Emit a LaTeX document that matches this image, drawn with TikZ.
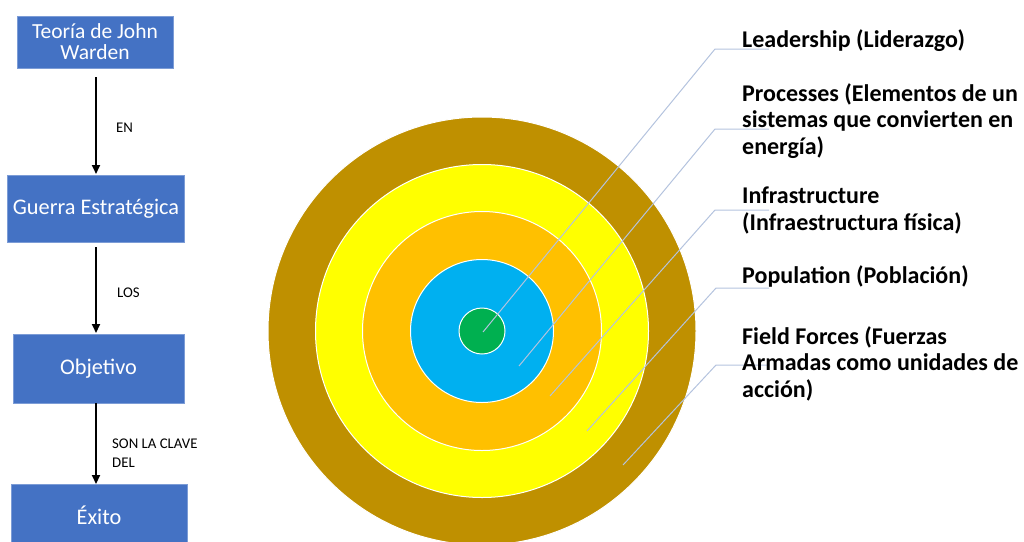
\documentclass[tikz,border=0pt]{standalone}
\usepackage{fontspec}
\setmainfont{Carlito}
\usetikzlibrary{arrows.meta}
\definecolor{boxblue}{HTML}{4472C4}
\definecolor{ringbrown}{HTML}{BF9000}
\definecolor{ringyellow}{HTML}{FFFF00}
\definecolor{ringorange}{HTML}{FFC000}
\definecolor{ringblue}{HTML}{00B0F0}
\definecolor{ringgreen}{HTML}{00B050}
\definecolor{leader}{HTML}{B4C3DE}
\tikzset{
  flowbox/.style={rectangle, fill=boxblue, draw=boxblue!70!white, line width=0.6pt, text=white, align=center, inner sep=0pt},
  flowarrow/.style={line width=2.2pt, -{Triangle[width=8pt,length=9pt]}},
  flowlabel/.style={font=\fontsize{14.8}{19}\selectfont, anchor=base west, inner sep=0pt, align=left},
  ring/.style={circle, draw=white, line width=1pt, inner sep=0pt},
  leaderline/.style={draw=leader, line width=1pt},
  ringlabel/.style={font=\bfseries\fontsize{24}{26.5}\selectfont, anchor=base west, inner sep=0pt, align=left}
}
\begin{document}
\begin{tikzpicture}[x=1pt,y=-1pt]
\useasboundingbox (0,0) rectangle (1024,541);
\clip (0,0) rectangle (1024,541);
% flow chart
\node[flowbox, minimum width=156pt, minimum height=52pt, font=\fontsize{21.5}{21}\selectfont] (b1) at (95,42) {Teoría de John\\Warden};
\node[flowbox, minimum width=177pt, minimum height=67pt, font=\fontsize{22.3}{24}\selectfont] (b2) at (96,208.5) {Guerra Estratégica};
\node[flowbox, minimum width=171pt, minimum height=69pt, font=\fontsize{22.3}{24}\selectfont] (b3) at (98.5,368.5) {Objetivo};
\node[flowbox, minimum width=176pt, minimum height=62pt, font=\fontsize{22.3}{24}\selectfont] (b4) at (99,515) {Éxito};
\coordinate (a1s) at (96,77);
\coordinate (a1e) at (96,174);
\coordinate (a2s) at (96,247);
\coordinate (a2e) at (96,333);
\coordinate (a3s) at (96,403);
\coordinate (a3e) at (96,484);
\draw[flowarrow] (a1s) -- (a1e);
\draw[flowarrow] (a2s) -- (a2e);
\draw[flowarrow] (a3s) -- (a3e);
\node[flowlabel] (l1) at (116,132) {EN};
\node[flowlabel] (l2) at (117,297) {LOS};
\node[flowlabel] (l3) at (112,467) {SON LA CLAVE\\DEL};
% target
\node[ring, fill=ringbrown, minimum size=428pt] (r5) at (482,331) {};
\node[ring, fill=ringyellow, minimum size=333pt] (r4) at (482,331) {};
\node[ring, fill=ringorange, minimum size=239pt] (r3) at (482,331) {};
\node[ring, fill=ringblue, minimum size=143pt] (r2) at (482,331) {};
\node[ring, fill=ringgreen, minimum size=46pt] (r1) at (482,331) {};
% leader lines
\coordinate (p1) at (483,332);
\coordinate (p2) at (519,366);
\coordinate (p3) at (550,396);
\coordinate (p4) at (587,431);
\coordinate (p5) at (623,465);
\coordinate (k1) at (715,49);
\coordinate (k2) at (715,129);
\coordinate (k3) at (715,210);
\coordinate (k4) at (716,288);
\coordinate (k5) at (716,365);
\coordinate (e1) at (769,49);
\coordinate (e2) at (769,129);
\coordinate (e3) at (769,210);
\coordinate (e4) at (769,288);
\coordinate (e5) at (769,365);
\draw[leaderline] (p1) -- (k1) -- (e1);
\draw[leaderline] (p2) -- (k2) -- (e2);
\draw[leaderline] (p3) -- (k3) -- (e3);
\draw[leaderline] (p4) -- (k4) -- (e4);
\draw[leaderline] (p5) -- (k5) -- (e5);
% labels (base anchor = baseline of last line)
\node[ringlabel] (t1) at (742,47) {Leadership (Liderazgo)};
\node[ringlabel] (t2) at (742,154) {Processes (Elementos de un\\sistemas que convierten en\\energía)};
\node[ringlabel] (t3) at (742,230) {Infrastructure\\(Infraestructura física)};
\node[ringlabel] (t4) at (742,283) {Population (Población)};
\node[ringlabel] (t5) at (742,397) {Field Forces (Fuerzas\\Armadas como unidades de\\acción)};
\end{tikzpicture}
\end{document}
